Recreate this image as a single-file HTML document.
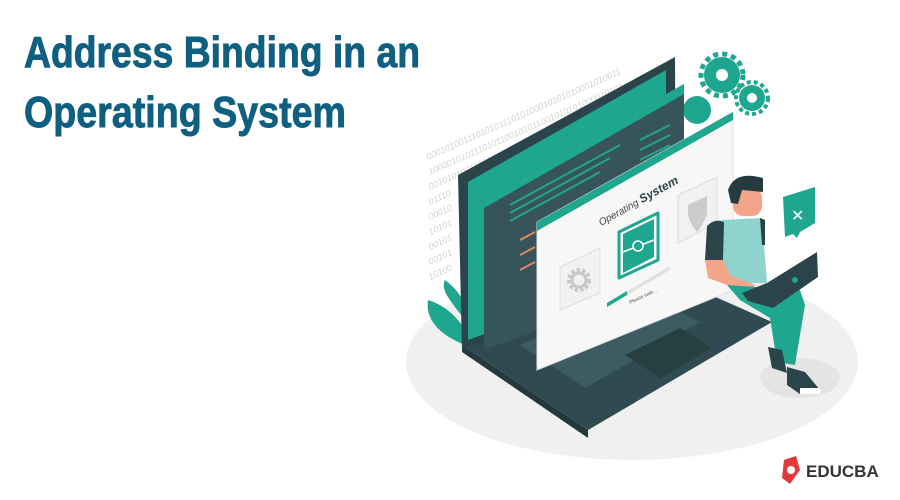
<!DOCTYPE html>
<html><head><meta charset="utf-8"><style>
html,body{margin:0;padding:0;background:#fff;}
svg{display:block}
</style></head><body>
<svg width="900" height="500" viewBox="0 0 900 500" xmlns="http://www.w3.org/2000/svg">
<rect width="900" height="500" fill="#fff"/>
<g font-family="'Liberation Sans Narrow','Liberation Sans',sans-serif" font-weight="bold" fill="#0f5f80" stroke="#0f5f80" stroke-width="0.9">
<text x="24" y="67" font-size="44" textLength="396" lengthAdjust="spacingAndGlyphs">Address Binding in an</text>
<text x="24" y="127" font-size="44" textLength="322" lengthAdjust="spacingAndGlyphs">Operating System</text>
</g>
<!-- ground -->
<ellipse cx="632" cy="362" rx="226" ry="98" fill="#f0f0f0"/>
<!-- binary text -->
<g font-family="'Liberation Sans',sans-serif" font-size="9" fill="#d3d3d3" font-style="italic">
<text transform="translate(428,160) rotate(-24)">0001010011101010111010100010101010001010011</text>
<text transform="translate(430,175) rotate(-24)">1000010101110101100101011001010101000010101</text>
<text transform="translate(430,190) rotate(-24)">0010101001110101011101010001010</text>
<text transform="translate(430,205) rotate(-24)">01110</text>
<text transform="translate(430,220) rotate(-24)">00010</text>
<text transform="translate(430,235) rotate(-24)">10101</text>
<text transform="translate(430,250) rotate(-24)">00101</text>
<text transform="translate(430,265) rotate(-24)">00101</text>
<text transform="translate(430,280) rotate(-24)">10100</text>
</g>
<!-- gears -->
<g fill="#1fa68f">
<circle cx="722" cy="75" r="18"/><circle cx="722" cy="75" r="21" fill="none" stroke="#1fa68f" stroke-width="5" stroke-dasharray="5 4"/>
<circle cx="752" cy="98" r="13"/><circle cx="752" cy="98" r="16" fill="none" stroke="#1fa68f" stroke-width="4" stroke-dasharray="4 3"/>
<circle cx="697" cy="110" r="14"/>
</g>
<circle cx="722" cy="75" r="6" fill="#fff"/><circle cx="752" cy="98" r="5" fill="#fff"/>
<!-- plant -->
<path d="M465 345 C440 335 425 320 428 300 C445 305 458 318 465 330 Z" fill="#1fa68f"/>
<path d="M465 320 C450 300 440 290 445 280 C458 290 465 300 466 315 Z" fill="#1fa68f"/>
<!-- laptop base -->
<polygon points="462,345 588,430 772,322 650,268" fill="#2f4a50"/>
<polygon points="462,345 588,430 588,438 462,352" fill="#23393e"/>
<polygon points="520,345 585,388 700,322 640,292" fill="#3d5c62"/>
<polygon points="625,355 660,378 712,348 680,328" fill="#27403f"/>
<!-- screen -->
<polygon points="458,175 675,57 676,275 462,350" fill="#2b4449"/>
<polygon points="468,182 666,70 666,268 468,340" fill="#1fa68f"/>
<!-- code window -->
<polygon points="484,198 684,84 684,278 484,350" fill="#37545a"/>
<polygon points="484,198 684,84 684,94 484,208" fill="#1fa68f"/>
<g stroke="#1fa68f" stroke-width="2">
<line x1="510" y1="205" x2="620" y2="145"/><line x1="510" y1="213" x2="610" y2="158"/><line x1="510" y1="221" x2="600" y2="172"/>
<line x1="640" y1="140" x2="670" y2="125"/><line x1="640" y1="150" x2="670" y2="135"/><line x1="640" y1="160" x2="670" y2="145"/>
</g>
<g stroke="#d98a5c" stroke-width="2"><line x1="520" y1="240" x2="535" y2="232"/><line x1="520" y1="255" x2="535" y2="247"/><line x1="520" y1="270" x2="535" y2="262"/></g>
<!-- OS window -->
<polygon points="537,222 733,112 733,290 537,370" fill="#f7f7f7" stroke="#e2e2e2"/>
<polygon points="537,222 733,112 733,120 537,231" fill="#1fa68f"/>
<text transform="translate(601,226) rotate(-29)" font-family="'Liberation Sans',sans-serif" font-size="10" fill="#444"><tspan font-style="italic">Operating</tspan> <tspan font-weight="bold" font-style="italic" font-size="12" fill="#2b4449">System</tspan></text>
<polygon points="619,232 658,213 658,260 619,278" fill="#fff" stroke="#1fa68f" stroke-width="3" stroke-linejoin="round"/>
<polygon points="623,234 654,219 654,257 623,273" fill="#1fa68f"/>
<line x1="623" y1="252" x2="654" y2="240" stroke="#fff" stroke-width="1.5"/>
<circle cx="638" cy="246" r="5" fill="#1fa68f" stroke="#fff" stroke-width="1.5"/>
<polygon points="560,267 600,248 600,293 560,310" fill="#f1f1f1" stroke="#ddd"/>
<circle cx="579" cy="280" r="9" fill="none" stroke="#c8c8c8" stroke-width="6" stroke-dasharray="3 2"/>
<circle cx="579" cy="280" r="7" fill="none" stroke="#c8c8c8" stroke-width="3"/>
<polygon points="678,195 717,177 717,223 678,243" fill="#f1f1f1" stroke="#ddd"/>
<path d="M688 205 L707 196 L707 215 Q701 228 697 232 Q690 224 688 215Z" fill="#ccc"/>
<polygon points="607,303 670,266 670,270 607,307" fill="#e0e0e0"/>
<polygon points="607,303 627,291 627,295 607,307" fill="#1fa68f"/>
<text transform="translate(630,304) rotate(-25)" font-family="'Liberation Sans',sans-serif" font-size="5" fill="#555">Please wait...</text>
<!-- chat icon -->
<path d="M783 197 L815 187 L815 223 L800 232 L797 238 L793 234 L785 237 Z" fill="#1fa68f"/>
<text x="791" y="221" font-family="'Liberation Sans',sans-serif" font-size="16" fill="#fff">✕</text>
<!-- person shadow -->
<ellipse cx="800" cy="378" rx="40" ry="20" fill="#e4e4e4"/>
<!-- person -->
<path d="M722 220 L762 218 L767 283 L723 283 Z" fill="#8fd3cf"/>
<path d="M707 226 Q715 218 724 222 L723 260 L705 260 Z" fill="#2b4449"/>
<path d="M760 218 L765 220 L765 245 L762 245 Z" fill="#2b4449"/>
<path d="M705 260 L723 260 L730 275 L755 285 L752 294 L708 278 Z" fill="#f3a58a"/>
<path d="M727 285 L800 290 L805 305 L795 365 L777 362 L770 318 L740 300 Z" fill="#1fa68f"/>
<path d="M768 347 L782 350 L787 373 L772 368 Z" fill="#2b4449"/>
<path d="M787 367 L805 372 L820 390 L800 394 L787 385 Z" fill="#2b4449"/>
<path d="M800 388 L820 388 L820 394 L800 394 Z" fill="#fff"/>
<rect x="733" y="188" width="29" height="28" rx="10" fill="#f3a58a"/>
<path d="M728 190 Q735 170 763 178 L763 192 L742 190 L738 204 L731 203 Z" fill="#263b40"/>
<polygon points="767,283 817,252 818,277 773,308" fill="#2b4449"/>
<polygon points="742,293 767,283 773,308 748,301" fill="#2b4449"/>
<circle cx="795" cy="280" r="3" fill="#1fa68f"/>
<!-- logo -->
<path d="M784 460 L796 456 L800 470 L790 484 L782 478 Z" fill="#e23a3a"/>
<circle cx="791" cy="470" r="4" fill="#fff"/>
<text x="806" y="477" font-family="'Liberation Sans',sans-serif" font-weight="bold" font-size="17" fill="#333">EDUCBA</text>
</svg>
</body></html>
